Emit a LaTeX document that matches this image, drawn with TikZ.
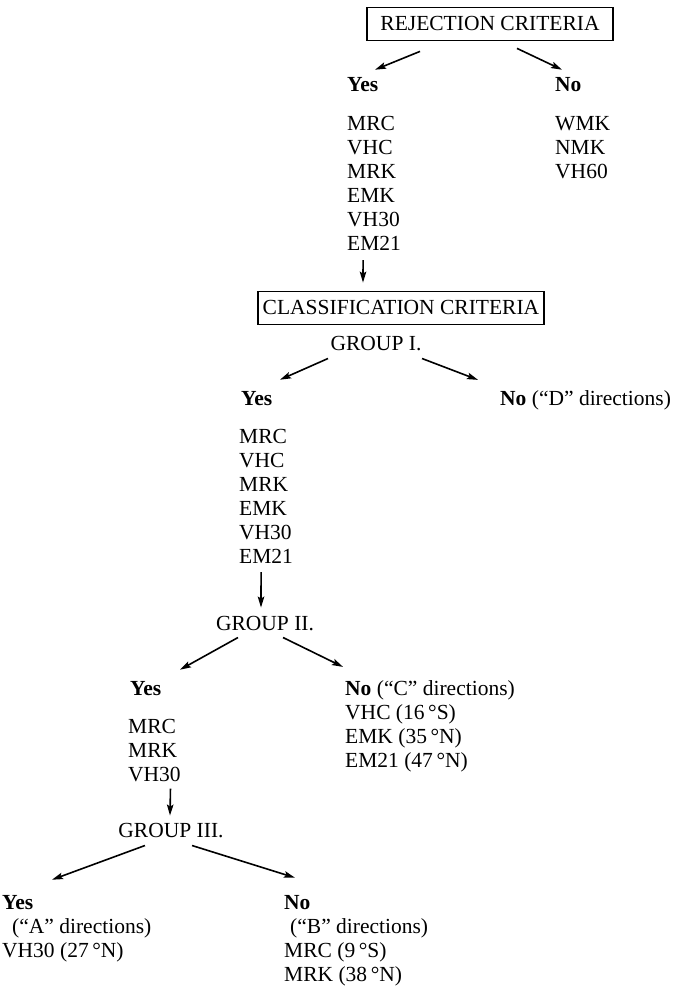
\documentclass[tikz,border=0pt]{standalone}
\usepackage{fontspec}
\setmainfont{Liberation Serif}
\usetikzlibrary{arrows.meta,calc}

\begin{document}
\begin{tikzpicture}[x=1pt,y=-1pt,
  every node/.style={font=\fontsize{21.5pt}{24pt}\selectfont, inner sep=0pt},
  critbox/.style={draw, line width=1.8pt, minimum height=33pt, text height=14.5pt, text depth=2pt},
  lbl/.style={anchor=base west},
  arr/.style={line width=1.6pt, -{Stealth[length=11pt,width=6.5pt,inset=2pt]}}]
\useasboundingbox (0,0) rectangle (675,990);

% Rejection criteria (top)
\node[critbox, minimum width=246pt] (rej) at (490,24) {REJECTION CRITERIA};
\node[lbl] (yes0) at (347,92) {\textbf{Yes}};
\node[lbl] (no0) at (555,92) {\textbf{No}};
\foreach \t [count=\i] in {MRC,VHC,MRK,EMK,VH30,EM21}
  \node[lbl] (a\i) at (347,{130+24*(\i-1)}) {\t};
\foreach \t [count=\i] in {WMK,NMK,VH60}
  \node[lbl] (b\i) at (555,{130+24*(\i-1)}) {\t};
\draw[arr] ($(rej.south)+(-70,10)$) -- ($(yes0.north west)+(28,-8)$);
\draw[arr] ($(rej.south)+(27,7)$) -- ($(no0.north west)+(7,-8)$);

% Classification criteria, group I
\node[critbox, minimum width=286pt] (cls) at (401,308) {CLASSIFICATION CRITERIA};
\draw[arr] ($(a6.south)+(-11,10)$) -- ($(cls.north)+(-38,-8)$);
\node[anchor=base] (g1) at (376,350) {GROUP I.};
\node[lbl] (yes1) at (241,405) {\textbf{Yes}};
\node[lbl] (no1) at (500,405) {\textbf{No} (``D'' directions)};
\foreach \t [count=\i] in {MRC,VHC,MRK,EMK,VH30,EM21}
  \node[lbl] (c\i) at (239,{443+24*(\i-1)}) {\t};
\draw[arr] ($(g1.south)+(-48,8)$) -- ($(yes1.north west)+(39,-11)$);
\draw[arr] ($(g1.south)+(46,8)$) -- ($(no1.north west)+(-22,-10)$);

% Group II
\node[anchor=base] (g2) at (265,630) {GROUP II.};
\draw[arr] ($(c6.south)+(-5,9)$) -- ($(g2.north)+(-4,-8)$);
\node[lbl] (yes2) at (130,695) {\textbf{Yes}};
\node[lbl] (no2) at (345,695) {\textbf{No} (``C'' directions)};
\foreach \t [count=\i] in {MRC,MRK,VH30}
  \node[lbl] (d\i) at (128,{733+24*(\i-1)}) {\t};
\foreach \t [count=\i] in {VHC (16\,°S),EMK (35\,°N),EM21 (47\,°N)}
  \node[lbl] (e\i) at (345,{719+24*(\i-1)}) {\t};
\draw[arr] ($(g2.south)+(-27,7)$) -- ($(yes2.north west)+(50,-11)$);
\draw[arr] ($(g2.south)+(18,7)$) -- ($(no2.north west)+(-2,-13)$);

% Group III
\node[anchor=base] (g3) at (171,837) {GROUP III.};
\draw[arr] ($(d3.south)+(16,7)$) -- ($(g3.north)+(-1,-7)$);
\node[lbl] (yes3) at (2,909) {\textbf{Yes}};
\node[lbl] (ya) at (12,933) {(``A'' directions)};
\node[lbl] (yb) at (2,957) {VH30 (27\,°N)};
\node[lbl] (no3) at (284,909) {\textbf{No}};
\node[lbl] (na) at (290,933) {(``B'' directions)};
\node[lbl] (nb) at (284,957) {MRC (9\,°S)};
\node[lbl] (nc) at (284,981) {MRK (38\,°N)};
\draw[arr] ($(g3.south)+(-26,8)$) -- ($(yes3.north west)+(50,-15)$);
\draw[arr] ($(g3.south)+(21,8)$) -- ($(no3.north west)+(11,-17)$);

\end{tikzpicture}
\end{document}
